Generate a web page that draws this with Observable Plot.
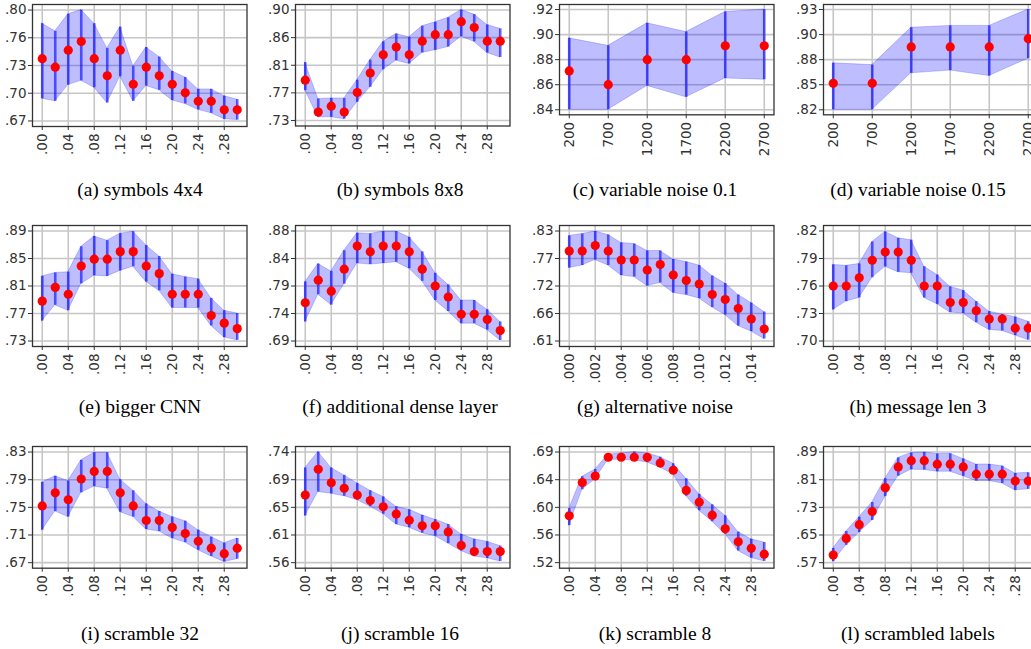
<!DOCTYPE html>
<html>
<head>
<meta charset="utf-8">
<script src="https://cdn.jsdelivr.net/npm/d3@7"></script>
<script src="https://cdn.jsdelivr.net/npm/@observablehq/plot@0.6"></script>
<style>
  html, body { margin: 0; padding: 0; background: #fff; overflow: hidden; }
  #root { position: relative; width: 1031px; height: 649px; overflow: hidden; }
  .panel { position: absolute; }
  .cap { position: absolute; width: 280px; text-align: center; font-family: "Liberation Serif", "Times New Roman", serif; font-size: 19.5px; line-height: 24px; color: #000; white-space: nowrap; }
</style>
</head>
<body>
<div id="root"></div>
<script>
// ---------- x categories and tick labels ----------
const xNoiseLevel = [0, 0.02, 0.04, 0.06, 0.08, 0.10, 0.12, 0.14, 0.16, 0.18, 0.20, 0.22, 0.24, 0.26, 0.28, 0.30];
const xNoiseTicks = [0, 0.04, 0.08, 0.12, 0.16, 0.20, 0.24, 0.28];
const xNoiseLabels = [".00", ".04", ".08", ".12", ".16", ".20", ".24", ".28"];

const xSteps = [200, 700, 1200, 1700, 2200, 2700];
const xStepsLabels = ["200", "700", "1200", "1700", "2200", "2700"];

const xAltNoise = [0, 0.001, 0.002, 0.003, 0.004, 0.005, 0.006, 0.007, 0.008, 0.009, 0.010, 0.011, 0.012, 0.013, 0.014, 0.015];
const xAltTicks = [0, 0.002, 0.004, 0.006, 0.008, 0.010, 0.012, 0.014];
const xAltLabels = [".000", ".002", ".004", ".006", ".008", ".010", ".012", ".014"];

// ---------- captions ----------
const captions = ["(a) symbols 4x4", "(b) symbols 8x8", "(c) variable noise 0.1", "(d) variable noise 0.15",
  "(e) bigger CNN", "(f) additional dense layer", "(g) alternative noise", "(h) message len 3",
  "(i) scramble 32", "(j) scramble 16", "(k) scramble 8", "(l) scrambled labels"];

// ---------- y tick labels and ranges ----------
const yLabelsA = [".67", ".70", ".73", ".76", ".80"]; const yRangeA = [0.67, 0.80];
const yLabelsB = [".73", ".77", ".81", ".86", ".90"]; const yRangeB = [0.73, 0.90];
const yLabelsC = [".84", ".86", ".88", ".90", ".92"]; const yRangeC = [0.84, 0.92];
const yLabelsD = [".82", ".85", ".88", ".90", ".93"]; const yRangeD = [0.82, 0.93];
const yLabelsE = [".73", ".77", ".81", ".85", ".89"]; const yRangeE = [0.73, 0.89];
const yLabelsF = [".69", ".74", ".79", ".84", ".88"]; const yRangeF = [0.69, 0.88];
const yLabelsG = [".61", ".66", ".72", ".77", ".83"]; const yRangeG = [0.61, 0.83];
const yLabelsH = [".70", ".73", ".76", ".79", ".82"]; const yRangeH = [0.70, 0.82];
const yLabelsI = [".67", ".71", ".75", ".79", ".83"]; const yRangeI = [0.67, 0.83];
const yLabelsJ = [".56", ".61", ".65", ".69", ".74"]; const yRangeJ = [0.56, 0.74];
const yLabelsK = [".52", ".56", ".60", ".64", ".69"]; const yRangeK = [0.52, 0.69];
const yLabelsL = [".57", ".65", ".73", ".81", ".89"]; const yRangeL = [0.57, 0.89];

// ---------- series: mean, upper, lower ----------
const meanA = [0.743,0.733,0.753,0.763,0.743,0.723,0.753,0.713,0.733,0.723,0.713,0.703,0.693,0.693,0.683,0.683];
const hiA   = [0.784,0.775,0.795,0.800,0.784,0.755,0.780,0.734,0.756,0.745,0.728,0.721,0.707,0.707,0.699,0.695];
const loA   = [0.696,0.693,0.712,0.717,0.709,0.691,0.722,0.693,0.711,0.706,0.694,0.690,0.683,0.679,0.672,0.671];

const meanB = [0.792,0.743,0.752,0.743,0.773,0.803,0.831,0.843,0.831,0.852,0.862,0.862,0.882,0.873,0.852,0.852];
const hiB   = [0.819,0.763,0.764,0.764,0.792,0.823,0.851,0.863,0.858,0.875,0.881,0.888,0.900,0.893,0.877,0.871];
const loB   = [0.776,0.735,0.735,0.732,0.758,0.781,0.808,0.822,0.817,0.834,0.838,0.843,0.859,0.851,0.834,0.827];

const meanC = [0.871,0.860,0.880,0.880,0.891,0.891];
const hiC   = [0.897,0.891,0.909,0.902,0.918,0.920];
const loC   = [0.840,0.840,0.859,0.850,0.865,0.864];

const meanD = [0.849,0.849,0.889,0.889,0.889,0.898];
const hiD   = [0.871,0.869,0.910,0.912,0.912,0.930];
const loD   = [0.820,0.820,0.860,0.863,0.857,0.876];

const meanE = [0.788,0.808,0.798,0.839,0.849,0.849,0.860,0.860,0.839,0.828,0.798,0.798,0.798,0.767,0.756,0.748];
const hiE   = [0.824,0.829,0.830,0.867,0.882,0.876,0.886,0.889,0.869,0.853,0.827,0.823,0.820,0.792,0.774,0.770];
const loE   = [0.759,0.782,0.774,0.813,0.825,0.824,0.832,0.838,0.816,0.803,0.778,0.778,0.778,0.752,0.735,0.731];

const meanF = [0.756,0.795,0.776,0.814,0.854,0.844,0.854,0.854,0.844,0.814,0.785,0.766,0.736,0.736,0.727,0.708];
const hiF   = [0.792,0.823,0.810,0.846,0.876,0.875,0.879,0.879,0.869,0.844,0.807,0.787,0.760,0.760,0.744,0.723];
const loF   = [0.723,0.770,0.752,0.788,0.824,0.822,0.824,0.826,0.815,0.793,0.760,0.741,0.720,0.720,0.709,0.691];

const meanG = [0.790,0.790,0.801,0.790,0.772,0.772,0.752,0.763,0.742,0.731,0.724,0.703,0.693,0.675,0.654,0.634];
const hiG   = [0.820,0.824,0.829,0.822,0.806,0.804,0.790,0.790,0.773,0.768,0.761,0.740,0.725,0.702,0.686,0.668];
const loG   = [0.756,0.761,0.772,0.761,0.741,0.738,0.720,0.726,0.706,0.702,0.695,0.677,0.662,0.640,0.629,0.614];

const meanH = [0.760,0.760,0.769,0.788,0.797,0.797,0.788,0.760,0.760,0.742,0.742,0.733,0.724,0.724,0.714,0.714];
const hiH   = [0.783,0.782,0.784,0.808,0.819,0.812,0.810,0.781,0.772,0.759,0.755,0.743,0.732,0.729,0.726,0.721];
const loH   = [0.734,0.743,0.747,0.769,0.781,0.775,0.774,0.747,0.740,0.731,0.730,0.720,0.712,0.711,0.706,0.701];

const meanI = [0.752,0.771,0.761,0.791,0.802,0.802,0.771,0.752,0.731,0.731,0.721,0.712,0.701,0.691,0.683,0.691];
const hiI   = [0.786,0.795,0.788,0.818,0.829,0.829,0.790,0.774,0.755,0.744,0.736,0.730,0.717,0.707,0.698,0.705];
const loI   = [0.717,0.744,0.736,0.771,0.780,0.777,0.743,0.736,0.718,0.715,0.705,0.699,0.688,0.679,0.671,0.675];

const meanJ = [0.670,0.712,0.690,0.681,0.670,0.661,0.651,0.639,0.629,0.620,0.620,0.610,0.588,0.578,0.578,0.578];
const hiJ   = [0.714,0.740,0.714,0.702,0.689,0.677,0.667,0.651,0.646,0.637,0.630,0.622,0.606,0.598,0.594,0.587];
const loJ   = [0.636,0.675,0.672,0.668,0.662,0.651,0.639,0.622,0.617,0.608,0.603,0.591,0.579,0.570,0.567,0.562];

const meanK = [0.592,0.643,0.653,0.682,0.682,0.682,0.682,0.673,0.662,0.631,0.613,0.593,0.572,0.552,0.542,0.533];
const hiK   = [0.603,0.652,0.663,0.686,0.688,0.690,0.688,0.682,0.672,0.649,0.625,0.609,0.592,0.567,0.556,0.551];
const loK   = [0.577,0.632,0.648,0.678,0.678,0.677,0.674,0.666,0.656,0.622,0.600,0.583,0.564,0.538,0.527,0.522];

const meanL = [0.592,0.640,0.680,0.718,0.787,0.847,0.865,0.865,0.855,0.855,0.847,0.826,0.826,0.826,0.806,0.806];
const hiL   = [0.611,0.660,0.701,0.744,0.813,0.873,0.887,0.889,0.884,0.885,0.870,0.854,0.854,0.849,0.828,0.830];
const loL   = [0.573,0.620,0.657,0.692,0.761,0.820,0.839,0.838,0.833,0.833,0.820,0.806,0.806,0.799,0.779,0.782];

// ---------- layout ----------
const ML = 40, MR = 12, MT = 10, MB = 58, FW = 214.5;
const colLeft = [32, 295.3, 559.3, 823.3];
const rowTop = [4, 225, 446];
const capCx = [140, 400, 655, 918];
const capCy = [190, 407, 634];

const panels = [
  {xs: xNoiseLevel, xt: xNoiseTicks, xl: xNoiseLabels, m: meanA, hi: hiA, lo: loA, yr: yRangeA, yl: yLabelsA, fh: 122},
  {xs: xNoiseLevel, xt: xNoiseTicks, xl: xNoiseLabels, m: meanB, hi: hiB, lo: loB, yr: yRangeB, yl: yLabelsB, fh: 121.5},
  {xs: xSteps, xt: xSteps, xl: xStepsLabels, m: meanC, hi: hiC, lo: loC, yr: yRangeC, yl: yLabelsC, fh: 110.3},
  {xs: xSteps, xt: xSteps, xl: xStepsLabels, m: meanD, hi: hiD, lo: loD, yr: yRangeD, yl: yLabelsD, fh: 110.3},
  {xs: xNoiseLevel, xt: xNoiseTicks, xl: xNoiseLabels, m: meanE, hi: hiE, lo: loE, yr: yRangeE, yl: yLabelsE, fh: 121},
  {xs: xNoiseLevel, xt: xNoiseTicks, xl: xNoiseLabels, m: meanF, hi: hiF, lo: loF, yr: yRangeF, yl: yLabelsF, fh: 121},
  {xs: xAltNoise, xt: xAltTicks, xl: xAltLabels, m: meanG, hi: hiG, lo: loG, yr: yRangeG, yl: yLabelsG, fh: 121},
  {xs: xNoiseLevel, xt: xNoiseTicks, xl: xNoiseLabels, m: meanH, hi: hiH, lo: loH, yr: yRangeH, yl: yLabelsH, fh: 121},
  {xs: xNoiseLevel, xt: xNoiseTicks, xl: xNoiseLabels, m: meanI, hi: hiI, lo: loI, yr: yRangeI, yl: yLabelsI, fh: 121.7},
  {xs: xNoiseLevel, xt: xNoiseTicks, xl: xNoiseLabels, m: meanJ, hi: hiJ, lo: loJ, yr: yRangeJ, yl: yLabelsJ, fh: 121.7},
  {xs: xNoiseLevel, xt: xNoiseTicks, xl: xNoiseLabels, m: meanK, hi: hiK, lo: loK, yr: yRangeK, yl: yLabelsK, fh: 121.7},
  {xs: xNoiseLevel, xt: xNoiseTicks, xl: xNoiseLabels, m: meanL, hi: hiL, lo: loL, yr: yRangeL, yl: yLabelsL, fh: 121.7}
];

const root = document.getElementById("root");

panels.forEach((p, idx) => {
  const col = idx % 4, row = Math.floor(idx / 4);
  const data = p.xs.map((x, i) => ({x, m: p.m[i], hi: p.hi[i], lo: p.lo[i]}));
  const [y0, y1] = p.yr;
  const yTicks = [0, 1, 2, 3, 4].map(k => y0 + (y1 - y0) * k / 4);
  const yLab = new Map(yTicks.map((t, k) => [t, p.yl[k]]));
  const xLab = new Map(p.xt.map((t, k) => [t, p.xl[k]]));
  const xmin = p.xs[0], xmax = p.xs[p.xs.length - 1];
  const xp = (xmax - xmin) * 0.05, yp = (y1 - y0) * 0.05;

  const svg = Plot.plot({
    width: ML + FW + MR,
    height: MT + p.fh + MB,
    marginLeft: ML, marginRight: MR, marginTop: MT, marginBottom: MB,
    style: {background: "transparent", overflow: "visible", maxWidth: "none", fontSize: "13.5px", fontFamily: "DejaVu Sans", color: "#333"},
    x: {domain: [xmin - xp, xmax + xp], label: null},
    y: {domain: [y0 - yp, y1 + yp], label: null},
    marks: [
      Plot.gridX(p.xt, {stroke: "#c6c6c6", strokeOpacity: 1, strokeWidth: 1.6}),
      Plot.gridY(yTicks, {stroke: "#c6c6c6", strokeOpacity: 1, strokeWidth: 1.6}),
      Plot.areaY(data, {x: "x", y1: "lo", y2: "hi", fill: "blue", fillOpacity: 0.26, stroke: "blue", strokeOpacity: 0.2, strokeWidth: 1}),
      Plot.ruleX(data, {x: "x", y1: "lo", y2: "hi", stroke: "blue", strokeOpacity: 0.6, strokeWidth: 2.6}),
      Plot.dot(data, {x: "x", y: "m", fill: "red", r: 4.6}),
      Plot.frame({stroke: "#333", strokeWidth: 1.3}),
      Plot.axisY(yTicks, {tickFormat: d => yLab.get(d), tickSize: 4, tickPadding: 2, label: null}),
      Plot.axisX(p.xt, {tickFormat: d => xLab.get(d), tickSize: 4, tickPadding: 3, tickRotate: -90, label: null})
    ]
  });
  const wrap = document.createElement("div");
  wrap.className = "panel";
  wrap.style.left = (colLeft[col] - ML) + "px";
  wrap.style.top = (rowTop[row] - MT) + "px";
  wrap.appendChild(svg);
  root.appendChild(wrap);

  const cap = document.createElement("div");
  cap.className = "cap";
  cap.textContent = captions[idx];
  cap.style.left = (capCx[col] - 140) + "px";
  cap.style.top = (capCy[row] - 12) + "px";
  root.appendChild(cap);
});
</script>
</body>
</html>
